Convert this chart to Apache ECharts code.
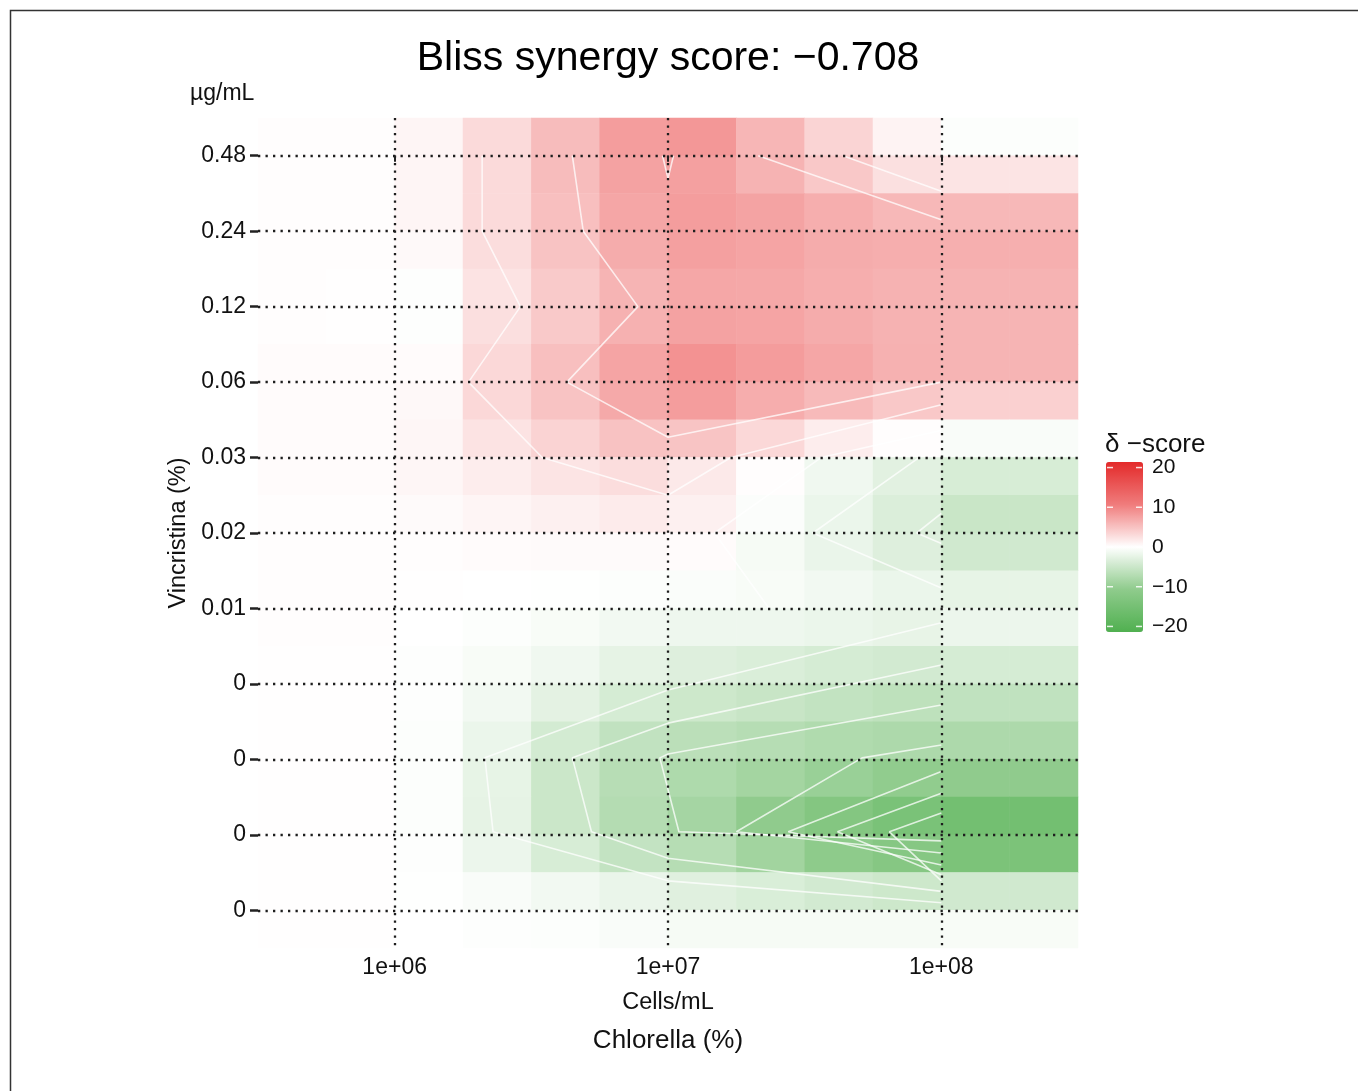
<!DOCTYPE html>
<html>
<head>
<meta charset="utf-8">
<script src="https://cdn.jsdelivr.net/npm/echarts@6/dist/echarts.min.js"></script>
<style>
html,body{margin:0;padding:0;background:#ffffff;}
#chart{width:1358px;height:1091px;}
</style>
</head>
<body>
<div id="chart"></div>
<script>
// ---------------- data ----------------
const titleText = 'Bliss synergy score: \u22120.708';
const xTickLabels = ['1e+06', '1e+07', '1e+08'];            // Chlorella, cells/mL
const yTickLabels = ['0.48', '0.24', '0.12', '0.06', '0.03', '0.02', '0.01', '0', '0', '0', '0']; // Vincristina
const legendTicks = [20, 10, 0, -10, -20];
const legendRange = [-21.4, 21.4];

// delta-score surface: 22 rows (top -> bottom, half a tick step each)
// x 12 columns (left -> right, a quarter of a tick step each)
const r00 = [0.2, 0.2, 0.8, 3.0, 5.5, 8.0, 8.5, 6.0, 3.5, 1.0, -0.3, -0.3];
const r01 = [0.2, 0.2, 0.8, 3.0, 5.5, 7.6, 7.8, 6.2, 4.5, 2.5, 2.2, 2.2];
const r02 = [0.2, 0.2, 0.8, 3.0, 5.2, 7.3, 8.0, 7.5, 6.6, 5.8, 5.8, 5.8];
const r03 = [0.2, 0.2, 0.5, 2.8, 4.9, 6.8, 7.8, 7.4, 6.8, 6.6, 6.5, 6.5];
const r04 = [0.2, 0.1, -0.2, 2.3, 4.3, 6.1, 7.2, 7.1, 6.6, 6.3, 6.2, 6.2];
const r05 = [0.2, 0.1, -0.2, 2.6, 4.4, 6.4, 7.6, 7.4, 6.8, 6.3, 6.1, 6.1];
const r06 = [0.3, 0.3, 0.3, 3.2, 5.2, 7.4, 8.9, 8.1, 7.3, 6.4, 6.1, 6.1];
const r07 = [0.3, 0.3, 0.6, 3.2, 4.9, 7.0, 8.0, 6.7, 5.6, 4.5, 3.8, 3.8];
const r08 = [0.3, 0.3, 0.7, 2.3, 3.6, 5.0, 4.8, 3.2, 1.5, 0.2, -0.6, -0.6];
const r09 = [0.3, 0.3, 0.7, 1.5, 2.2, 2.8, 1.8, 0.2, -1.4, -2.8, -3.8, -3.8];
const r10 = [0.2, 0.2, 0.4, 0.8, 1.2, 1.6, 1.2, -0.4, -1.9, -3.4, -5.2, -5.2];
const r11 = [0.2, 0.2, 0.2, 0.3, 0.4, 0.4, 0.3, -0.9, -2.0, -3.2, -4.5, -4.5];
const r12 = [0.2, 0.2, 0.1, 0.0, -0.1, -0.3, -0.5, -0.7, -1.2, -1.9, -2.3, -2.3];
const r13 = [0.2, 0.2, 0.0, -0.3, -0.7, -1.2, -1.6, -1.6, -1.9, -2.2, -1.8, -1.8];
const r14 = [0.1, 0.1, -0.15, -0.7, -1.4, -2.4, -3.2, -3.5, -4.0, -4.3, -4.0, -4.0];
const r15 = [0.1, 0.1, -0.2, -1.2, -2.6, -4.0, -4.8, -5.3, -5.8, -6.2, -6.0, -6.0];
const r16 = [0.1, 0.1, -0.3, -1.9, -4.2, -5.9, -6.5, -7.0, -7.5, -7.8, -7.8, -7.8];
const r17 = [0.1, 0.1, -0.3, -2.3, -5.0, -6.9, -7.7, -8.7, -9.7, -10.5, -10.6, -10.6];
const r18 = [0.1, 0.1, -0.3, -2.4, -5.0, -7.2, -8.6, -10.6, -12.6, -14.2, -15.5, -15.5];
const r19 = [0.1, 0.1, -0.2, -1.8, -3.8, -5.7, -7.0, -8.9, -10.8, -12.3, -14.0, -14.0];
const r20 = [0.1, 0.1, -0.1, -0.6, -1.2, -2.0, -3.0, -3.6, -4.3, -4.8, -4.5, -4.5];
const r21 = [0.1, 0.1, 0.0, -0.2, -0.3, -0.6, -0.9, -0.9, -0.9, -0.9, -0.7, -0.7];

// contour lines: [log10(cells/mL), row index (0 = 0.48 ... 10 = last 0)]
const contourRed1 = [[6.32, 0], [6.32, 1], [6.46, 2], [6.27, 3], [6.54, 4], [7.0, 4.5], [7.23, 4.0], [8.0, 3.3]];
const contourRed2 = [[6.65, 0], [6.69, 1], [6.89, 2], [6.63, 3], [7.0, 3.73], [8.0, 3.0]];
const contourRed3 = [[7.33, 0], [8.0, 0.85]];
const contourRed4 = [[7.64, 0], [8.0, 0.47]];
const contourRed5 = [[6.98, 0], [7.0, 0.3], [7.02, 0]];
const contourZero = [[8.0, 3.64], [7.56, 4.0], [7.17, 5.0], [7.37, 6.0]];
const contourGrn1 = [[7.93, 3.97], [7.53, 5.0], [8.0, 5.73]];
const contourGrn2 = [[8.0, 4.74], [7.91, 5.0], [8.0, 5.14]];
const contourGrn3 = [[8.0, 6.19], [7.0, 7.08], [6.33, 7.98], [6.36, 8.96], [7.0, 9.61], [8.0, 9.9]];
const contourGrn4 = [[8.0, 6.75], [7.0, 7.52], [6.65, 7.98], [6.72, 8.96], [7.0, 9.31], [8.0, 9.75]];
const contourGrn5 = [[8.0, 7.28], [7.0, 7.93], [6.97, 7.98], [7.04, 8.96], [8.0, 9.08]];
const contourGrn6 = [[8.0, 7.81], [7.71, 7.98], [7.25, 8.96], [8.0, 9.24]];
const contourGrn7 = [[8.0, 8.16], [7.44, 8.96], [8.0, 9.4]];
const contourGrn8 = [[8.0, 8.45], [7.62, 8.96], [8.0, 9.53]];
const contourGrn9 = [[8.0, 8.71], [7.81, 8.96], [8.0, 9.61]];

// ---------------- build ----------------
const deltaRows = [r00, r01, r02, r03, r04, r05, r06, r07, r08, r09, r10,
                   r11, r12, r13, r14, r15, r16, r17, r18, r19, r20, r21];
const contours = [contourRed1, contourRed2, contourRed3, contourRed4, contourRed5, contourZero,
                  contourGrn1, contourGrn2, contourGrn3, contourGrn4, contourGrn5, contourGrn6,
                  contourGrn7, contourGrn8, contourGrn9];
const nCols = r00.length;
const xFine = Array.from({length: nCols}, (_, i) => 'c' + i);
const yFine = deltaRows.map((_, i) => 'r' + i);
const heatData = [];
deltaRows.forEach((row, k) => row.forEach((v, j) => heatData.push([j, k, v])));

// visible axes: tick positions interleaved with half-step edge slots
const xAxisCats = [];
xTickLabels.forEach((l, i) => { xAxisCats.push('xe' + i); xAxisCats.push(l); });
xAxisCats.push('xe' + xTickLabels.length);
const yAxisCats = [];
yTickLabels.forEach((l, i) => { yAxisCats.push('ye' + i); yAxisCats.push(l); });
yAxisCats.push('ye' + yTickLabels.length);
const onTick = (i) => i % 2 === 1;

const FONT = '"Liberation Sans", Arial, sans-serif';
const TXT = '#111111';
const gridLine = {show: true, interval: onTick, lineStyle: {color: '#1e1e1e', width: 2.3, type: [2.3, 5.2]}};

// legend geometry
const LG = {left: 1106, top: 462, w: 37, h: 170};
const legendY = v => LG.top + (legendRange[1] - v) / (legendRange[1] - legendRange[0]) * LG.h;

const graphics = [
  {type: 'rect', shape: {x: 10.5, y: 10.5, width: 1500, height: 1200},
   style: {fill: 'none', stroke: '#333', lineWidth: 1.5}, silent: true},
  {type: 'text', left: 190, top: 82,
   style: {text: '\u00b5g/mL', font: '23px ' + FONT, fill: TXT}},
  {type: 'text', left: 1105, top: 432,
   style: {text: '\u03b4 \u2212score', font: '26px ' + FONT, fill: TXT}}
];
legendTicks.forEach(v => {
  const y = legendY(v);
  graphics.push({type: 'text', x: 1152, y: y,
    style: {text: String(v).replace('-', '\u2212'), font: '21px ' + FONT, fill: TXT,
            textVerticalAlign: 'middle', textAlign: 'left'}, z: 10});
  graphics.push({type: 'line', shape: {x1: LG.left + 1, y1: y, x2: LG.left + 7, y2: y},
    style: {stroke: 'rgba(255,255,255,0.85)', lineWidth: 1.5}, z: 10});
  graphics.push({type: 'line', shape: {x1: LG.left + LG.w - 7, y1: y, x2: LG.left + LG.w - 1, y2: y},
    style: {stroke: 'rgba(255,255,255,0.85)', lineWidth: 1.5}, z: 10});
});

const series = [{
  type: 'heatmap', xAxisIndex: 1, yAxisIndex: 1, data: heatData, z: 2,
  itemStyle: {borderWidth: 0}, emphasis: {disabled: true}, silent: true
}];
contours.forEach(c => series.push({
  type: 'line', xAxisIndex: 2, yAxisIndex: 2, data: c, z: 3,
  showSymbol: false, symbol: 'none', silent: true, smooth: false,
  lineStyle: {color: 'rgba(255,255,255,0.75)', width: 1.6}
}));

const chart = echarts.init(document.getElementById('chart'), null, {renderer: 'canvas'});
chart.setOption({
  backgroundColor: '#ffffff',
  animation: false,
  title: {
    text: titleText, left: 668, top: 59, textAlign: 'center', textVerticalAlign: 'middle', padding: 0,
    textStyle: {fontFamily: FONT, fontSize: 41, fontWeight: 'normal', color: '#000'}
  },
  grid: {left: 258, right: 280, top: 118, bottom: 143, containLabel: false},
  xAxis: [
    {
      type: 'category', data: xAxisCats, boundaryGap: false, position: 'bottom', z: 5,
      axisLine: {show: false},
      axisTick: {show: true, interval: onTick, length: 6, lineStyle: {color: '#222', width: 2}},
      axisLabel: {interval: onTick, margin: 8, fontFamily: FONT, fontSize: 23, color: TXT},
      splitLine: gridLine,
      name: '{a|Cells/mL}\n{b|Chlorella (%)}', nameLocation: 'middle', nameGap: 36,
      nameTextStyle: {fontFamily: FONT, color: TXT, lineHeight: 38,
        rich: {a: {fontSize: 23.5, fontFamily: FONT, color: TXT, lineHeight: 38},
               b: {fontSize: 26, fontFamily: FONT, color: TXT, lineHeight: 38}}}
    },
    {type: 'category', data: xFine, boundaryGap: true, show: false, gridIndex: 0},
    {type: 'value', min: 5.5, max: 8.5, show: false, gridIndex: 0}
  ],
  yAxis: [
    {
      type: 'category', data: yAxisCats, boundaryGap: false, inverse: true, position: 'left', z: 5,
      axisLine: {show: false},
      axisTick: {show: true, interval: onTick, length: 8, lineStyle: {color: '#222', width: 2.5}},
      axisLabel: {interval: onTick, margin: 12, fontFamily: FONT, fontSize: 23, color: TXT},
      splitLine: gridLine,
      name: 'Vincristina (%)', nameLocation: 'middle', nameGap: 66, nameRotate: 90,
      nameTextStyle: {fontFamily: FONT, fontSize: 23.5, color: TXT}
    },
    {type: 'category', data: yFine, boundaryGap: true, inverse: true, show: false, gridIndex: 0},
    {type: 'value', min: -0.5, max: 10.5, inverse: true, show: false, gridIndex: 0}
  ],
  visualMap: {
    type: 'continuous', min: legendRange[0], max: legendRange[1], calculable: false,
    seriesIndex: 0, left: LG.left, top: LG.top, itemWidth: LG.w, itemHeight: LG.h,
    padding: 0, hoverLink: false, showLabel: false,
    inRange: {color: ['#50b050', '#8fcb8c', '#ffffff', '#f07c7c', '#e32a2a']}
  },
  series: series,
  graphic: graphics
});
</script>
</body>
</html>
